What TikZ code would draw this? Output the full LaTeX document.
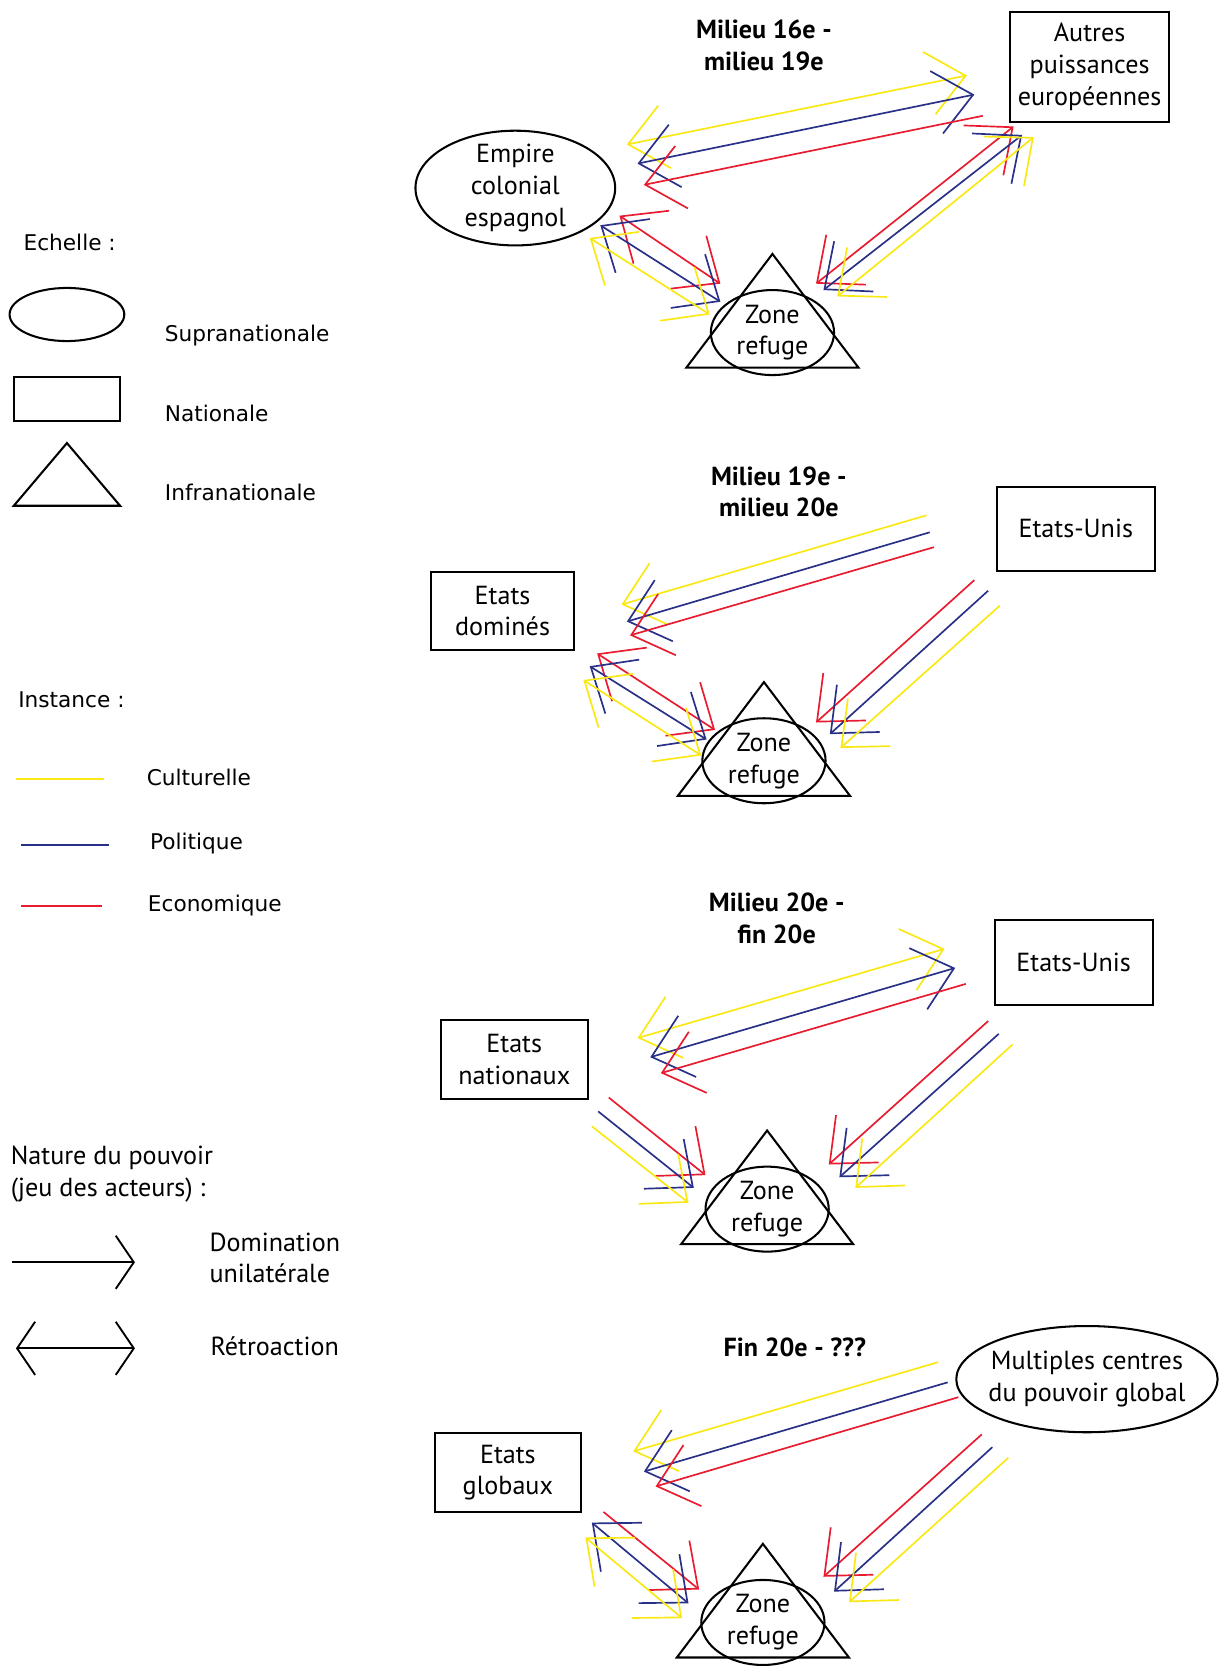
\documentclass[tikz,border=0pt]{standalone}
\usepackage{fontspec}
\setmainfont{PT Sans}
\newfontfamily\legfont{DejaVu Sans}
\usetikzlibrary{shapes.geometric,arrows.meta}

\definecolor{jaune}{RGB}{250,232,20}
\definecolor{bleu}{RGB}{40,48,135}
\definecolor{rouge}{RGB}{232,28,48}

\tikzset{
  echelle/.style={draw, line width=1.1pt, align=center, inner sep=0pt},
  boite/.style={echelle, rectangle},
  ovale/.style={echelle, ellipse, inner sep=-5pt},
  zone/.style={ovale, minimum width=2.32cm, minimum height=1.6cm},
  titre/.style={font=\bfseries\fontsize{14}{17}\selectfont, align=center},
  leg/.style={anchor=west, font=\legfont\fontsize{11.6}{14}\selectfont},
  legb/.style={anchor=west, align=left},
  cult/.style={draw=jaune, line width=0.9pt},
  poli/.style={draw=bleu, line width=0.9pt},
  econ/.style={draw=rouge, line width=0.9pt},
  dom/.style={-{Straight Barb[length=7mm,width=12mm]}},
  ret/.style={{Straight Barb[length=7mm,width=12mm]}-{Straight Barb[length=7mm,width=12mm]}},
}

\begin{document}
\begin{tikzpicture}[x=0.02cm, y=-0.02cm, font=\fontsize{14}{17}\selectfont]
\useasboundingbox (0,0) rectangle (1149,1568);

% legende : echelle
\node[leg] (ech) at (16,228) {Echelle :};
\node[ovale, minimum width=2.16cm, minimum height=1cm] (lsup) at (63,296) {};
\node[leg] (sup) at (149,316) {Supranationale};
\node[boite, minimum width=2cm, minimum height=0.82cm] (lnat) at (63,375.5) {};
\node[leg] (nat) at (149,389) {Nationale};
\draw[line width=1.1pt] (13,476) -- (63,417) -- (113,476) -- cycle;
\node[leg] (inf) at (149,463) {Infranationale};

% legende : instance
\node[leg] (ins) at (11,659) {Instance :};
\draw[cult] (15,733) -- (98,733);
\node[leg] (cul) at (132,732) {Culturelle};
\draw[poli] (20,795) -- (103,795);
\node[leg] (pol) at (135,794) {Politique};
\draw[econ] (20,853) -- (96,853);
\node[leg] (eco) at (133,852) {Economique};

% legende : pouvoir
\node[legb] (pouv) at (4,1105) {Nature du pouvoir\\(jeu des acteurs) :};
\draw[line width=1pt, -{Straight Barb[length=3.4mm,width=10mm]}] (11,1188) -- (127,1188);
\node[legb] (domi) at (191,1184) {Domination\\unilatérale};
\draw[line width=1pt, {Straight Barb[length=3.4mm,width=10mm]}-{Straight Barb[length=3.4mm,width=10mm]}] (15,1269) -- (127,1269);
\node[legb] (retr) at (192,1267) {Rétroaction};

% periode 1
\node[titre] (t1) at (719,43) {Milieu 16e -\\milieu 19e};
\node[boite, minimum width=2.98cm, minimum height=2.06cm] (aut) at (1025.5,63) {Autres\\puissances\\européennes};
\node[ovale, minimum width=3.76cm, minimum height=2.16cm] (emp) at (485,177) {Empire\\colonial\\espagnol};
\node[zone] (z1) at (727,313) {Zone\\refuge};

% periode 2
\node[titre] (t2) at (733,463) {Milieu 19e -\\milieu 20e};
\node[boite, minimum width=2.98cm, minimum height=1.58cm] (eu2) at (1012.5,497.5) {Etats-Unis};
\node[boite, minimum width=2.68cm, minimum height=1.48cm] (dom2) at (473,575) {Etats\\dominés};
\node[zone] (z2) at (719,716) {Zone\\refuge};

% periode 3
\node[titre] (t3) at (731,864) {Milieu 20e -\\fin 20e};
\node[boite, minimum width=2.98cm, minimum height=1.6cm] (eu3) at (1010.5,906) {Etats-Unis};
\node[boite, minimum width=2.76cm, minimum height=1.48cm] (nat3) at (484,997) {Etats\\nationaux};
\node[zone] (z3) at (722,1138) {Zone\\refuge};

% periode 4
\node[titre] (t4) at (748,1268) {Fin 20e - ???};
\node[ovale, minimum width=4.92cm, minimum height=2cm] (mul4) at (1023,1298) {Multiples centres\\du pouvoir global};
\node[boite, minimum width=2.76cm, minimum height=1.48cm] (glo4) at (478,1386) {Etats\\globaux};
\node[zone] (z4) at (718,1527) {Zone\\refuge};

% triangles des zones refuge
\foreach \z in {z1,z2,z3,z4}
  \draw[line width=1.1pt] (\z.center) ++(0,-74) -- ++(81,107) -- ++(-162,0) -- cycle;

% fleches
\foreach \s/\t/\xa/\ya/\xb/\yb [count=\i] in {
  cult/ret/590/136/910/71, poli/ret/600/154/917/89, econ/dom/925/109/606/174,
  econ/ret/583/203/678/267, poli/ret/565/212/678/284, cult/ret/555/224/668/296,
  econ/ret/954/119/768/267, poli/ret/962/127/775/273, cult/ret/973/129/788/279,
  cult/dom/872/485/585/569, poli/dom/875/501/590/585, econ/dom/879/515/593/598,
  econ/ret/562/615/673/687, poli/ret/555/627/665/696, cult/ret/549/640/660/711,
  econ/dom/917/546/768/680, poli/dom/930/556/781/691, cult/dom/941/570/791/704,
  cult/ret/600/977/889/893, poli/ret/612/995/899/911, econ/dom/909/926/622/1010,
  econ/dom/573/1033/664/1106, poli/dom/563/1046/653/1118, cult/dom/557/1060/648/1132,
  econ/dom/930/961/780/1096, poli/dom/940/973/790/1108, cult/dom/953/983/805/1118,
  cult/dom/883/1282/596/1366, poli/dom/892/1301/606/1385, econ/dom/902/1315/617/1399,
  econ/dom/568/1423/658/1496, poli/ret/557/1433/648/1509, cult/ret/551/1447/642/1523,
  econ/dom/924/1350/775/1484, poli/dom/934/1362/785/1498, cult/dom/949/1372/799/1508}
{
  \coordinate (a\i) at (\xa,\ya);
  \coordinate (b\i) at (\xb,\yb);
  \draw[\s,\t] (a\i) -- (b\i);
}
\end{tikzpicture}
\end{document}
